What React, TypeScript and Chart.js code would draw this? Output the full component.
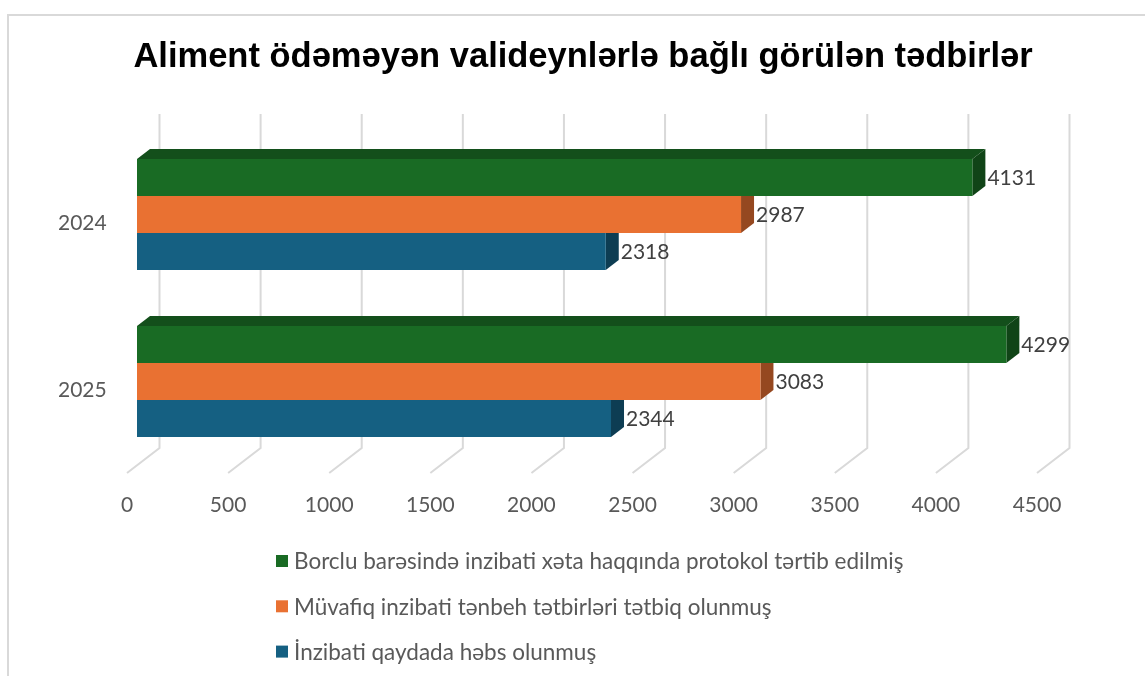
import React, { useEffect, useRef } from "react";
import { Chart, registerables } from "chart.js";

Chart.register(...registerables);

const TITLE = "Aliment ödəməyən valideynlərlə bağlı görülən tədbirlər";
const CATEGORIES = ["2024", "2025"];
const SERIES_LABELS = [
  "Borclu barəsində inzibati xəta haqqında protokol tərtib edilmiş",
  "Müvafiq inzibati tənbeh tətbirləri tətbiq olunmuş",
  "İnzibati qaydada həbs olunmuş",
];
const PROTOCOL = [4131, 4299];
const PENALTY = [2987, 3083];
const ARREST = [2318, 2344];
const X_MIN = 0;
const X_MAX = 4500;
const X_STEP = 500;
const COLORS = ["#196B24", "#E97132", "#156082"];

// 3D look parameters (pixels)
const DEPTH_X = 13;
const DEPTH_Y = -10;
const WALL_X = 22.5;
const WALL_Y = -17;
const FLOOR_X = -10;
const FLOOR_Y = 8;

function shade(hex: string, f: number): string {
  const n = parseInt(hex.slice(1), 16);
  const r = Math.round(((n >> 16) & 255) * f);
  const g = Math.round(((n >> 8) & 255) * f);
  const b = Math.round((n & 255) * f);
  return `rgb(${r},${g},${b})`;
}

const threeDPlugin = {
  id: "threeD",
  beforeDatasetsDraw(chart: any) {
    const { ctx, chartArea, scales } = chart;
    const xs = scales.x;
    ctx.save();
    ctx.strokeStyle = "#d9d9d9";
    ctx.lineWidth = 2;
    for (const t of xs.ticks) {
      const px = xs.getPixelForValue(t.value);
      ctx.beginPath();
      ctx.moveTo(px + WALL_X, chartArea.top + WALL_Y);
      ctx.lineTo(px + WALL_X, chartArea.bottom + WALL_Y);
      ctx.lineTo(px + FLOOR_X, chartArea.bottom + FLOOR_Y);
      ctx.stroke();
    }
    chart.data.datasets.forEach((ds: any, i: number) => {
      const meta = chart.getDatasetMeta(i);
      meta.data.forEach((bar: any) => {
        const { x, y, base, height } = bar.getProps(["x", "y", "base", "height"], true);
        const top = y - height / 2;
        const bottom = y + height / 2;
        const left = Math.min(base, x);
        const right = Math.max(base, x);
        ctx.fillStyle = shade(COLORS[i], 0.74);
        ctx.beginPath();
        ctx.moveTo(left, top);
        ctx.lineTo(left + DEPTH_X, top + DEPTH_Y);
        ctx.lineTo(right + DEPTH_X, top + DEPTH_Y);
        ctx.lineTo(right, top);
        ctx.closePath();
        ctx.fill();
        ctx.fillStyle = shade(COLORS[i], 0.64);
        ctx.beginPath();
        ctx.moveTo(right, top);
        ctx.lineTo(right + DEPTH_X, top + DEPTH_Y);
        ctx.lineTo(right + DEPTH_X, bottom + DEPTH_Y);
        ctx.lineTo(right, bottom);
        ctx.closePath();
        ctx.fill();
      });
    });
    ctx.restore();
  },
  afterDraw(chart: any) {
    const { ctx, chartArea } = chart;
    ctx.save();
    // data labels
    ctx.font = "21px Lato";
    ctx.fillStyle = "#404040";
    ctx.textAlign = "left";
    ctx.textBaseline = "middle";
    chart.data.datasets.forEach((ds: any, i: number) => {
      const meta = chart.getDatasetMeta(i);
      meta.data.forEach((bar: any, j: number) => {
        const { x, y } = bar.getProps(["x", "y"], true);
        ctx.fillText(String(ds.data[j]), x + DEPTH_X + 2, y + 1);
      });
    });
    // legend
    ctx.font = "22.5px Lato";
    chart.data.datasets.forEach((ds: any, i: number) => {
      const cy = chartArea.bottom + 96 + i * 45.3;
      ctx.fillStyle = ds.backgroundColor;
      ctx.fillRect(276, cy - 6, 12, 12);
      ctx.fillStyle = "#595959";
      ctx.fillText(ds.label, 294, cy + 1);
    });
    ctx.restore();
  },
};

export default function App() {
  const ref = useRef<HTMLCanvasElement | null>(null);
  useEffect(() => {
    if (!ref.current) return;
    Chart.defaults.font.family = "Lato";
    const chart = new Chart(ref.current, {
      type: "bar",
      data: {
        labels: CATEGORIES,
        datasets: [
          { label: SERIES_LABELS[0], data: PROTOCOL, backgroundColor: COLORS[0] },
          { label: SERIES_LABELS[1], data: PENALTY, backgroundColor: COLORS[1] },
          { label: SERIES_LABELS[2], data: ARREST, backgroundColor: COLORS[2] },
        ],
      },
      options: {
        indexAxis: "y",
        responsive: false,
        animation: false,
        events: [],
        datasets: {
          bar: { categoryPercentage: 0.665, barPercentage: 1, borderWidth: 0 },
        },
        layout: { padding: { top: 20, left: 119, right: 98, bottom: 158 } },
        scales: {
          x: {
            min: X_MIN,
            max: X_MAX,
            grid: { display: false, drawTicks: false },
            border: { display: false },
            ticks: {
              stepSize: X_STEP,
              padding: 28,
              labelOffset: -10,
              font: { family: "Lato", size: 21 },
              color: "#595959",
              maxRotation: 0,
              autoSkip: false,
              callback: (v: any) => String(v),
            },
            afterFit: (s: any) => {
              s.height = 53;
            },
          },
          y: {
            grid: { display: false, drawTicks: false },
            border: { display: false },
            ticks: {
              mirror: true,
              padding: -79,
              labelOffset: 8.5,
              font: { family: "Lato", size: 21 },
              color: "#595959",
            },
            afterFit: (s: any) => {
              s.width = 18;
            },
          },
        },
        plugins: {
          legend: { display: false },
          tooltip: { enabled: false },
          title: {
            display: true,
            text: TITLE,
            color: "#000000",
            font: { family: "Liberation Sans", size: 34.5, weight: "bold" },
            padding: { top: 17, bottom: 52.6 },
          },
        },
      },
      plugins: [threeDPlugin],
    });
    return () => chart.destroy();
  }, []);

  return (
    <div>
      <div
        style={{
          position: "fixed",
          left: 7,
          top: 14,
          width: 1138,
          height: 662,
          boxSizing: "border-box",
          borderTop: "2px solid #d9d9d9",
          borderLeft: "2px solid #d9d9d9",
          background: "#ffffff",
        }}
      />
      <canvas
        ref={ref}
        width={1145}
        height={676}
        style={{ position: "fixed", left: 0, top: 0, width: 1145, height: 676 }}
      />
    </div>
  );
}
